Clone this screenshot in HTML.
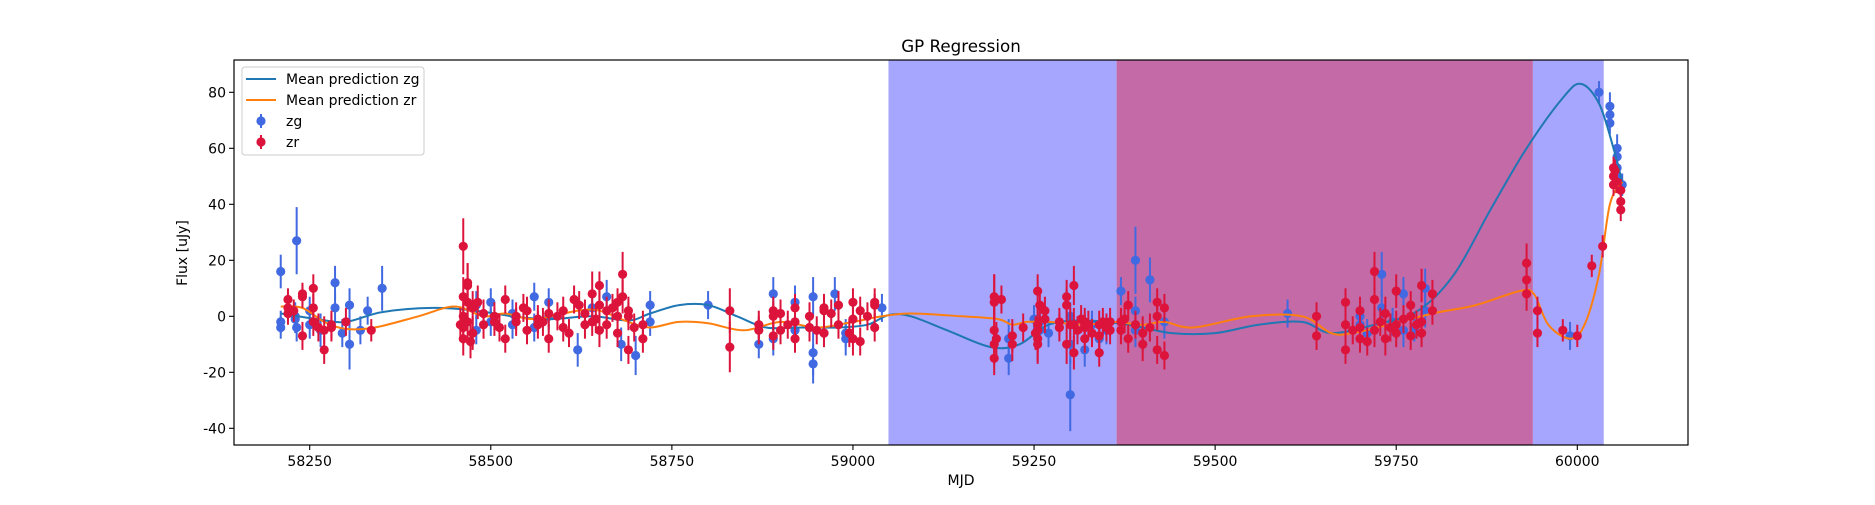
<!DOCTYPE html>
<html><head><meta charset="utf-8"><style>
body{margin:0;background:#fff;}
svg{font-family:"DejaVu Sans","Liberation Sans",sans-serif;}
</style></head><body>
<svg id="c" width="1875" height="500"></svg>
<script>
const zgX=[58210,58210,58210,58230,58232,58230,58232,58250,58250,58265,58285,58285,58295,58305,58305,58320,58330,58350,
58480,58480,58500,58500,58530,58530,58560,58560,58580,58580,58620,58640,58660,58680,58700,58720,58720,58800,58870,58890,58890,58920,58920,58945,58945,58945,58960,58975,58990,58990,59040,
59215,59215,59258,59258,59300,59300,59300,59320,59350,59250,59270,59330,59340,
59370,59390,59390,59390,59410,59430,59600,59700,59700,59730,59730,59760,59760,59790,59790,59710,59745,59775,
59990,60030,60045,60045,60045,60055,60055,60055,60055,60062];
const zgY=[-2,-4,16,0,27,-1,-4,2,-3,-5,3,12,-6,4,-10,-5,2,10,
-5,4,5,-2,-3,1,7,-4,5,0,-12,3,7,-10,-14,-2,4,4,-10,8,-8,5,-5,-13,-17,7,-6,8,-8,-6,3,
-15,-8,-2,-5,-28,-10,0,-12,-5,-1,-6,-3,-8,
9,20,-5,2,13,-2,1,-3,0,15,3,8,-5,10,2,-6,-2,-4,
-7,80,75,72,69,57,53,60,50,47];
const zgE=[4,4,6,5,12,5,5,5,5,6,5,6,5,6,9,5,5,8,
5,5,5,5,5,5,5,5,5,5,6,5,6,6,7,5,5,5,5,6,6,6,7,8,7,7,5,6,6,5,5,
6,7,5,5,13,7,5,6,5,5,5,5,5,
5,12,6,5,8,6,5,5,5,8,6,6,6,7,6,5,5,5,
5,4,5,4,4,4,4,5,4,4];
const zrX=[58220,58220,58220,58240,58240,58240,58255,58255,58255,58270,58270,58280,58280,58300,58335,58228,58262,
58462,58462,58462,58462,58462,58468,58468,58468,58468,58475,58475,58490,58490,58505,58505,58520,58520,58535,58535,58550,58550,58565,58565,58580,58580,58600,58600,58615,58630,58630,58640,58640,58650,58650,58650,58660,58660,58675,58675,58675,58682,58682,58690,58690,58690,58710,58710,
58458,58472,58482,58512,58545,58572,58592,58608,58622,58645,58668,58698,
58830,58830,58870,58870,58890,58890,58890,58900,58900,58920,58920,58920,58940,58940,58960,58960,58960,58980,58980,59000,59000,59000,59010,59010,59030,59030,59030,58910,58950,58970,58995,59020,
59195,59195,59195,59195,59195,59205,59220,59220,59235,59255,59255,59255,59255,59255,59265,59265,59285,59285,59295,59295,59295,59305,59305,59305,59320,59320,59320,59340,59340,59340,59355,59355,
59198,59252,59258,59300,59310,59315,59325,59330,59345,59350,
59370,59370,59380,59380,59400,59400,59420,59420,59420,59430,59430,59375,59390,59410,
59640,59640,59680,59680,59680,59700,59700,59700,59720,59720,59720,59735,59735,59750,59750,59750,59770,59770,59770,59785,59785,59785,59800,59800,59690,59710,59728,59742,59760,59778,
59930,59930,59930,59945,59945,59980,60000,60020,60035,60050,60050,60050,60052,60054,60060,60060,60060];
const zrY=[6,3,1,7,8,-7,10,3,-2,-12,-5,-3,-4,-2,-5,2,-4,
25,7,0,-4,-8,11,12,5,-2,-6,3,1,-3,-2,0,6,-8,-2,0,-5,2,-3,-1,-8,1,-4,2,6,-3,1,-2,8,11,4,-5,2,-3,0,5,-6,15,7,-12,0,2,-8,-3,
-3,-9,5,-4,3,-2,0,-6,4,-1,3,-4,
2,-11,-5,-3,0,-7,2,-5,1,-2,3,-8,-4,0,-6,2,3,-3,4,-1,5,-8,2,-9,5,-4,4,-3,-5,1,-6,0,
-15,5,-5,7,-10,6,-7,-10,-4,9,-3,-8,-5,-10,2,-1,-4,-2,7,4,-10,11,-13,-3,-2,-4,-8,-3,-7,-13,-2,-5,
-8,-6,4,-3,-5,-1,-3,-6,-2,-4,
-2,-5,-8,4,-6,-10,-12,5,0,-14,3,-1,-3,-4,
-7,0,-12,-3,5,-8,2,-4,6,-5,16,-8,1,-3,-6,9,4,-7,0,11,-2,-6,2,8,-5,-9,-2,-4,-1,-3,
19,13,8,2,-6,-5,-7,18,25,47,53,50,52,48,45,41,38];
const zrE=[4,4,4,4,4,5,5,5,5,5,5,5,5,5,4,4,5,
10,7,6,6,6,8,7,6,6,6,6,5,5,5,5,5,5,5,5,5,5,5,5,5,5,5,5,5,5,5,5,8,5,5,6,5,5,5,5,5,8,6,5,5,5,5,5,
6,6,6,5,5,5,5,5,5,5,5,5,
8,9,5,5,5,5,5,5,5,5,5,5,5,5,5,5,5,5,5,5,5,6,5,5,5,5,4,5,5,5,5,5,
6,10,8,8,7,5,6,6,5,6,6,8,8,7,5,5,5,5,6,6,7,7,6,6,5,5,5,5,5,5,5,5,
6,6,6,6,5,5,5,5,5,5,
5,5,5,5,6,6,5,5,5,5,5,5,5,5,
5,5,5,5,5,5,5,5,6,6,7,6,6,5,5,6,5,5,5,6,6,5,5,5,5,5,5,5,5,5,
7,6,6,5,5,4,4,4,4,4,4,4,4,4,4,4,4];
const gX=[58210,58260,58300,58350,58420,58480,58530,58580,58640,58690,58720,58760,58800,58840,58880,58930,58980,59020,59050,59080,59130,59190,59230,59270,59320,59380,59440,59500,59560,59620,59660,59720,59780,59830,59880,59930,59980,60005,60030,60050,60062];
const gY=[1,-1,-2,1.5,3,2,0,-1,0,-1.5,1,4,4,0,-4,-4,-4,-3,0.5,0,-5,-11,-10,-3,-1.5,-3,-6,-6,-3,-2,-6,-3,2,15,38,60,78,83,76,60,48];
const rX=[58210,58240,58270,58300,58340,58400,58450,58490,58520,58560,58620,58650,58690,58720,58760,58800,58850,58900,58950,59000,59040,59080,59150,59200,59220,59240,59270,59320,59360,59400,59430,59470,59550,59620,59660,59690,59740,59800,59860,59920,59940,59960,59990,60010,60030,60045,60062];
const rY=[3.5,3,-2,-4.5,-4,0,3.5,0,1,-1,2,2,-2,-4,-2,-2.5,-5,-2,-4,-2,0,1,0,-1,-3,-2,-2,-3,-2,-3,-2,-4,0,0,-6,-6,-3,1,4,9,8,-3,-8,-3,15,40,48];
const xTicks=[58250,58500,58750,59000,59250,59500,59750,60000];
const yTicks=[-40,-20,0,20,40,60,80];
const spans=[[59049,59364,'#a6a6ff','span-zg'],[59364,59938.7,'#c46aa6','span-overlap'],[59938.7,60036.5,'#a6a6ff','span-zg-late']];

const L=234,R=1688,T=60,B=445;
const X=v=>309.7+(v-58250)*(1267.6/1750);
const Y=v=>316.3-v*(56/20);
const svg=document.getElementById('c');const NS='http://www.w3.org/2000/svg';
function mk(t,a,p){const e=document.createElementNS(NS,t);for(const k in a)e.setAttribute(k,a[k]);(p||svg).appendChild(e);return e;}
for(const s of spans){const r=mk('rect',{x:X(s[0]),y:T,width:X(s[1])-X(s[0]),height:B-T,fill:s[2]});

}
function pts(xs,ys,col,name){for(let i=0;i<xs.length;i++){const g=mk('g',{});


const e=(name==='zg-point'?zgE:zrE)[i];
mk('line',{x1:X(xs[i]),x2:X(xs[i]),y1:Y(ys[i]-e),y2:Y(ys[i]+e),stroke:col,'stroke-width':2},g);
mk('circle',{cx:X(xs[i]),cy:Y(ys[i]),r:4.6,fill:col},g);}}
function curve(xs,ys,col,name){let d='';const n=xs.length;
const px=xs.map(X),py=ys.map(Y);d='M'+px[0]+','+py[0];
for(let i=0;i<n-1;i++){const p0=i?i-1:i,p3=i+2<n?i+2:i+1;
const c1x=px[i]+(px[i+1]-px[p0])/6,c1y=py[i]+(py[i+1]-py[p0])/6,c2x=px[i+1]-(px[p3]-px[i])/6,c2y=py[i+1]-(py[p3]-py[i])/6;
d+=`C${c1x},${c1y} ${c2x},${c2y} ${px[i+1]},${py[i+1]}`;}
const p=mk('path',{d,fill:'none',stroke:col,'stroke-width':2});

}
pts(zgX,zgY,'#4169e1','zg-point');
curve(gX,gY,'#1f77b4','mean-line-zg');
curve(rX,rY,'#ff7f0e','mean-line-zr');
pts(zrX,zrY,'#dc143c','zr-point');
const fr=mk('rect',{x:L,y:T,width:R-L,height:B-T,fill:'none',stroke:'#000','stroke-width':1.2});


for(const t of xTicks){mk('line',{x1:X(t),x2:X(t),y1:B,y2:B+5,stroke:'#000','stroke-width':1.1});
const tx=mk('text',{x:X(t),y:B+21,'text-anchor':'middle','font-size':14});tx.textContent=t;

}
for(const t of yTicks){mk('line',{x1:L-5,x2:L,y1:Y(t),y2:Y(t),stroke:'#000','stroke-width':1.1});
const tx=mk('text',{x:L-8,y:Y(t)+5,'text-anchor':'end','font-size':14});tx.textContent=t;

}
</script>
<svg width="1875" height="500" style="position:absolute;left:0;top:0">
<text x="961" y="52" text-anchor="middle" font-size="16.7">GP Regression</text>
<text x="961" y="485" text-anchor="middle" font-size="14">MJD</text>
<text x="187" y="253" text-anchor="middle" font-size="14" transform="rotate(-90 187 253)">Flux [uJy]</text>
<g>
<rect x="242" y="67" width="182" height="88" rx="3" fill="#fff" fill-opacity="0.8" stroke="#ccc"/>
<line x1="246" x2="276" y1="79" y2="79" stroke="#1f77b4" stroke-width="2"/>
<text x="286" y="84" font-size="14">Mean prediction zg</text>
<line x1="246" x2="276" y1="100" y2="100" stroke="#ff7f0e" stroke-width="2"/>
<text x="286" y="105" font-size="14">Mean prediction zr</text>
<line x1="261" x2="261" y1="114" y2="128" stroke="#4169e1" stroke-width="2"/><circle cx="261" cy="121" r="4.6" fill="#4169e1"/>
<text x="286" y="126" font-size="14">zg</text>
<line x1="261" x2="261" y1="135" y2="149" stroke="#dc143c" stroke-width="2"/><circle cx="261" cy="142" r="4.6" fill="#dc143c"/>
<text x="286" y="147" font-size="14">zr</text>
</g>
</svg>
</body></html>
